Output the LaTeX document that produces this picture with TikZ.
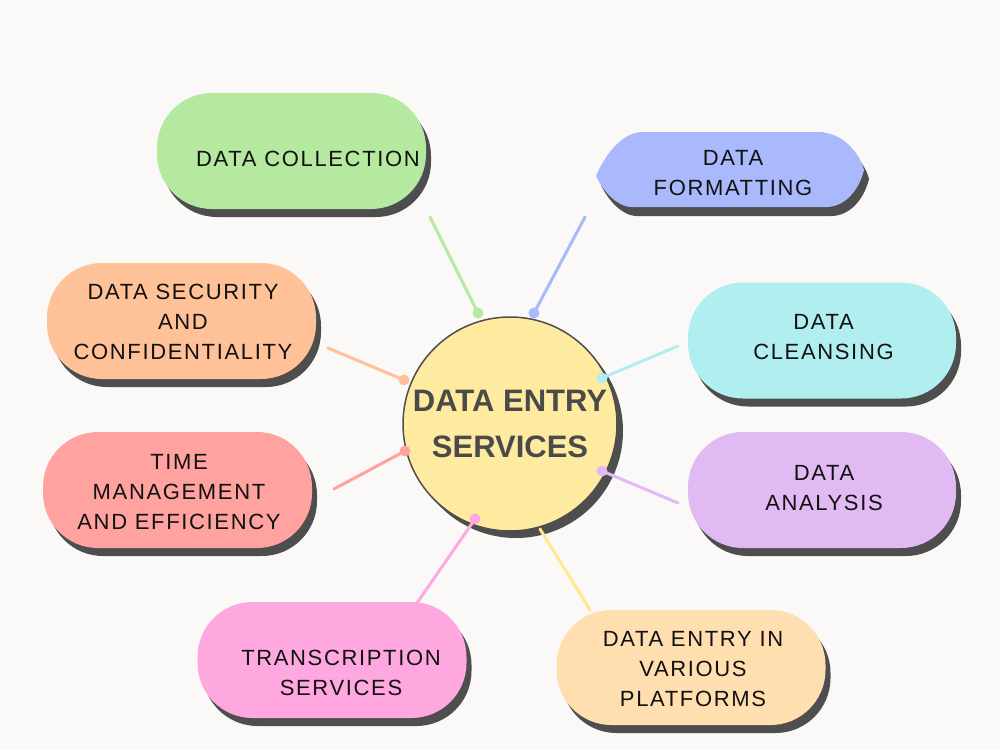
\documentclass[tikz,border=0pt]{standalone}
\usepackage{fontspec}
\setmainfont{Liberation Sans}
\newfontfamily\boxfont[LetterSpace=7.5]{Liberation Sans}
\usetikzlibrary{shadows}
\definecolor{bgc}{HTML}{FAF9F8}
\definecolor{shc}{HTML}{4E4E4E}
\definecolor{txc}{HTML}{111111}
\definecolor{ttc}{HTML}{4A4A4A}
\definecolor{greenc}{HTML}{B5E9A0}
\definecolor{bluec}{HTML}{A9B9FC}
\definecolor{orangec}{HTML}{FFC198}
\definecolor{redc}{HTML}{FFA2A0}
\definecolor{pinkc}{HTML}{FFA8E0}
\definecolor{peachc}{HTML}{FFDFAF}
\definecolor{cyanc}{HTML}{B0EEF0}
\definecolor{lavc}{HTML}{E2BAF3}
\definecolor{yelc}{HTML}{FFEB9F}
\definecolor{yline}{HTML}{FFE88F}
\tikzset{
  pill/.style={rectangle, rounded corners=55pt, minimum width=269pt, minimum height=116pt, inner sep=0pt,
    drop shadow={shadow xshift=5pt, shadow yshift=-8pt, fill=shc, opacity=1}},
  lbl/.style={font=\boxfont\fontsize{22}{30}\selectfont, text=txc, align=center, inner sep=0pt},
  conn/.style={line width=3pt, line cap=round},
  dfshape/.style={insert path={(643,132) -- (818,132) .. controls (843,132) and (860,154) .. (864,170)
     .. controls (860,187) and (847,207) .. (826,207) -- (632,207) .. controls (616,207) and (602,189) .. (596,176)
     .. controls (603,159) and (620,132) .. (643,132) -- cycle}}
}
\begin{document}
\begin{tikzpicture}[x=1pt,y=-1pt]
\useasboundingbox (0,0) rectangle (1000,750);
\fill[bgc] (0,0) rectangle (1000,750);

% boxes
\node[pill, fill=greenc] (b1) at (291.5,151) {};
\fill[shc, shift={(5,9)}, dfshape];
\fill[bluec, dfshape];
\node[pill, fill=orangec] (b3) at (181.5,321) {};
\node[pill, fill=redc] (b4) at (177.5,490) {};
\node[pill, fill=pinkc] (b5) at (332,660) {};
\node[pill, fill=peachc, minimum height=115pt] (b6) at (691,667.5) {};
\node[pill, fill=cyanc, minimum width=268pt] (b7) at (822,340.5) {};
\node[pill, fill=lavc, minimum width=268pt] (b8) at (822,490) {};

% labels
\node[lbl] (t1) at (308,159) {DATA COLLECTION};
\node[lbl] (t2) at (733,173.5) {DATA\\FORMATTING};
\node[lbl] (t3) at (183,322) {DATA SECURITY\\AND\\CONFIDENTIALITY};
\node[lbl] (t4) at (179,492) {TIME\\MANAGEMENT\\AND EFFICIENCY};
\node[lbl] (t5) at (341,673) {TRANSCRIPTION\\SERVICES};
\node[lbl] (t6) at (693,669) {DATA ENTRY IN\\VARIOUS\\PLATFORMS};
\node[lbl] (t7) at (823.5,337) {DATA\\CLEANSING};
\node[lbl] (t8) at (824,488) {DATA\\ANALYSIS};

% centre
\fill[shc] (516,431) circle (107);
\node[circle, minimum size=214pt, inner sep=0pt, fill=yelc, draw=shc, line width=1.5pt,
  font=\bfseries\fontsize{31}{46}\selectfont, text=ttc, align=center] (c) at (510,424) {DATA ENTRY\\SERVICES};

% connector ends
\coordinate (a1) at (430,217); \coordinate (d1) at (478,313);
\coordinate (a2) at (585,217); \coordinate (d2) at (534,313);
\coordinate (a3) at (328,348); \coordinate (d3) at (404,380);
\coordinate (a4) at (334,489); \coordinate (d4) at (405,451);
\coordinate (a5) at (417,603); \coordinate (d5) at (475,519);
\coordinate (a6) at (590,610); \coordinate (d6) at (540,529);
\coordinate (a7) at (678,346); \coordinate (d7) at (602,378);
\coordinate (a8) at (678,503); \coordinate (d8) at (602,471);

\draw[conn, greenc] (a1) -- (d1); \fill[greenc] (d1) circle (5.5);
\draw[conn, bluec] (a2) -- (d2); \fill[bluec] (d2) circle (5.5);
\draw[conn, orangec] (a3) -- (d3); \fill[orangec] (d3) circle (5.5);
\draw[conn, redc] (a4) -- (d4); \fill[redc] (d4) circle (5.5);
\draw[conn, pinkc] (a5) -- (d5); \fill[pinkc] (d5) circle (5.5);
\draw[conn, yline] (a6) -- (d6);
\draw[conn, cyanc] (a7) -- (d7); \fill[cyanc] (d7) circle (5.5);
\draw[conn, lavc] (a8) -- (d8); \fill[lavc] (d8) circle (5.5);
\end{tikzpicture}
\end{document}
